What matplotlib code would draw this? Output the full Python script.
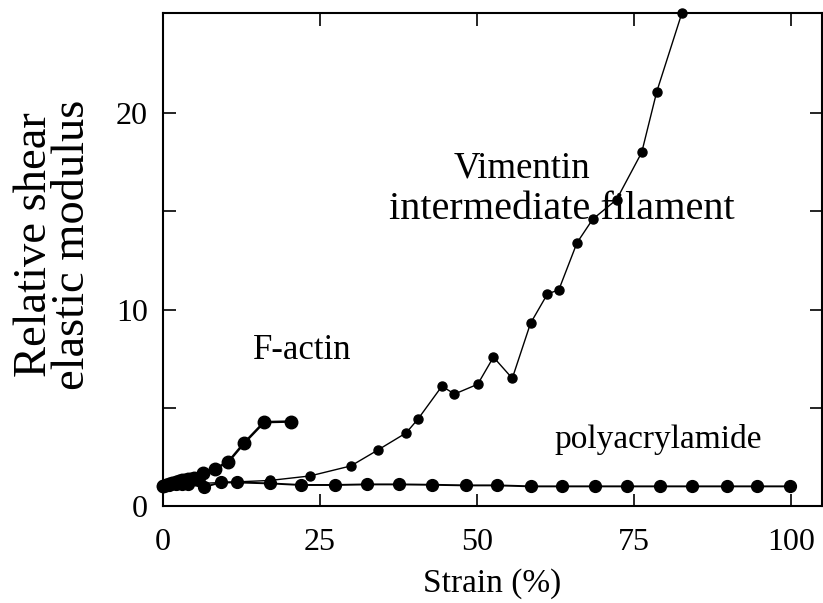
import matplotlib
matplotlib.use("Agg")
import matplotlib.pyplot as plt

# ---- data ----
vimentin_x = [0, 2, 4, 6, 17.0, 23.4, 29.9, 34.2, 38.7, 40.6, 44.4, 46.4, 50.1,
              52.6, 55.6, 58.5, 61.2, 63.0, 65.9, 68.4, 72.2, 76.2, 78.6, 82.6]
vimentin_y = [1.0, 1.05, 1.1, 1.15, 1.3, 1.53, 2.04, 2.85, 3.72, 4.43, 6.1, 5.7, 6.2,
              7.58, 6.5, 9.3, 10.8, 11.0, 13.4, 14.6, 15.6, 18.0, 21.1, 25.1]

factin_x = [0, 0.5, 1, 1.5, 2, 2.5, 3, 3.5, 4, 4.5, 5, 6.4, 8.3, 10.4, 12.9, 16.1, 20.3]
factin_y = [1.0, 1.05, 1.1, 1.15, 1.2, 1.25, 1.3, 1.32, 1.35, 1.4, 1.45, 1.7, 1.9,
            2.25, 3.2, 4.27, 4.3]

polyacryl_x = [0, 1, 2, 3, 4, 6.6, 9.2, 11.7, 17.0, 22.0, 27.4, 32.5, 37.6, 42.8,
               48.2, 53.2, 58.6, 63.5, 68.8, 73.9, 79.1, 84.2, 89.8, 94.6, 99.8]
polyacryl_y = [1.0, 1.05, 1.1, 1.1, 1.1, 0.97, 1.2, 1.2, 1.15, 1.07, 1.07, 1.1, 1.1,
               1.08, 1.05, 1.05, 1.0, 1.0, 1.0, 1.0, 1.0, 1.0, 1.0, 1.0, 1.0]

x_ticks = [0, 25, 50, 75, 100]
x_tick_labels = ["0", "25", "50", "75", "100"]
y_ticks = [0, 5, 10, 15, 20]
y_tick_labels = ["0", "", "10", "", "20"]

FONT = "Liberation Serif"
plt.rcParams["font.family"] = [FONT, "DejaVu Serif"]

fig = plt.figure(figsize=(8.23, 6.03), dpi=100)
ax = fig.add_axes([163 / 823, 1 - 506 / 603, (822 - 163) / 823, (506 - 13) / 603])

ax.plot(polyacryl_x, polyacryl_y, "-o", color="black", lw=1.4, ms=8.5, clip_on=False, zorder=3)
ax.plot(factin_x, factin_y, "-o", color="black", lw=1.8, ms=9, clip_on=False, zorder=3)
ax.plot(vimentin_x, vimentin_y, "-o", color="black", lw=1.0, ms=6.5, clip_on=False, zorder=4)

ax.set_xlim(0, 104.9)
ax.set_ylim(0, 25.1)
ax.set_xticks(x_ticks)
ax.set_xticklabels(x_tick_labels)
ax.set_yticks(y_ticks)
ax.set_yticklabels(y_tick_labels)
ax.tick_params(direction="in", length=9, width=1.2, top=True, right=True,
               labelsize=23)
ax.tick_params(axis="x", pad=16)
ax.tick_params(axis="y", pad=11)
for s in ax.spines.values():
    s.set_linewidth(1.5)

ax.set_xlabel("Strain (%)", fontsize=24, labelpad=8)
fig.text(54 / 823, 1 - 245 / 603, "Relative shear\nelastic modulus", rotation=90,
         ha="center", va="center", fontsize=33.5, linespacing=0.85,
         multialignment="center")

ax.text(57.2, 16.7, "Vimentin", ha="center", va="baseline", fontsize=26.5)
ax.text(63.5, 14.6, "intermediate filament", ha="center", va="baseline", fontsize=29)
ax.text(22.1, 7.5, "F-actin", ha="center", va="baseline", fontsize=25)
ax.text(78.8, 2.95, "polyacrylamide", ha="center", va="baseline", fontsize=24)

fig.savefig("out.png", dpi=100)
